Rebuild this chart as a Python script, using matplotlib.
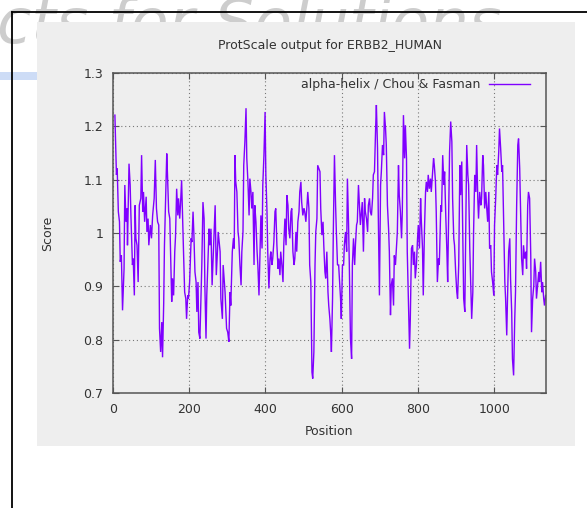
import matplotlib
matplotlib.use('Agg')
import matplotlib.pyplot as plt
from matplotlib.patches import Rectangle
from matplotlib.lines import Line2D

title = "ProtScale output for ERBB2_HUMAN"
series_label = "alpha-helix / Chou & Fasman"
x_label = "Position"
y_label = "Score"
watermark = "cts for Solutions"
x_ticks = [0, 200, 400, 600, 800, 1000]
y_ticks = [0.7, 0.8, 0.9, 1.0, 1.1, 1.2, 1.3]
y_tick_labels = ["0.7", "0.8", "0.9", "1", "1.1", "1.2", "1.3"]

positions = [
    5, 9, 11, 14, 17, 19, 22, 25, 29, 31, 34, 37, 38, 42, 45, 47, 51, 53, 56, 58,
    60, 63, 66, 69, 73, 75, 78, 80, 83, 87, 89, 92, 94, 98, 101, 104, 108, 111, 114, 117,
    120, 122, 125, 128, 130, 133, 135, 138, 141, 143, 146, 149, 151, 154, 156, 159, 162, 164, 167, 170,
    172, 175, 177, 180, 183, 185, 188, 191, 193, 196, 198, 201, 205, 207, 210, 212, 215, 218, 220, 223,
    225, 228, 231, 233, 236, 239, 241, 244, 246, 249, 252, 254, 257, 260, 262, 266, 268, 271, 274, 276,
    281, 283, 287, 289, 294, 298, 301, 304, 307, 309, 313, 316, 318, 320, 322, 325, 328, 330, 333, 336,
    338, 341, 343, 346, 349, 351, 354, 357, 359, 362, 364, 367, 370, 372, 375, 378, 380, 383, 385, 388,
    391, 393, 396, 399, 401, 404, 406, 409, 412, 414, 417, 419, 422, 425, 427, 430, 433, 435, 438, 440,
    443, 446, 448, 451, 454, 456, 459, 461, 464, 467, 469, 472, 475, 477, 480, 482, 485, 488, 490, 493,
    495, 498, 501, 503, 506, 509, 511, 514, 516, 519, 522, 524, 527, 530, 532, 535, 537, 540, 543, 545,
    548, 551, 553, 556, 558, 561, 564, 566, 569,
    571, 573, 576, 578, 581, 584, 586, 589, 592, 594, 597, 599, 602, 605, 607, 610, 613, 615, 618, 620,
    623, 626, 628, 631, 634, 636, 639, 641, 644, 647, 649, 652, 654, 657, 660, 662, 665, 668, 670, 673,
    675, 678, 681, 683, 686, 689, 691, 694, 696, 699, 702, 704, 707, 710, 712, 715, 717, 720, 723, 725,
    728, 730, 733, 736, 738, 741, 744, 746, 749, 751, 754, 757, 759, 762, 765, 767, 770, 772, 775, 778,
    780, 783, 786, 788, 791, 793, 796, 799, 801, 804, 807, 809, 812, 814, 817, 820, 822, 825, 827, 830,
    833, 835, 838, 841, 843, 846, 848, 851, 854, 856,
    857, 860, 862, 865, 868, 870, 873, 876, 878, 881, 883, 886, 889, 891, 894, 896, 899, 902, 904, 907,
    910, 912, 915, 917, 920, 923, 925, 928, 931, 933, 936, 938, 941, 944, 946, 949, 952, 954, 957, 959,
    962, 965, 967, 970, 972, 975, 978, 980, 983, 986, 988, 991, 993, 996, 999, 1001, 1004, 1007, 1009, 1012,
    1014, 1017, 1020, 1022, 1025, 1028, 1030, 1033, 1035, 1038, 1041, 1043, 1046, 1048, 1051, 1054, 1056, 1059, 1062, 1064,
    1067, 1069, 1072, 1075, 1077, 1080, 1083, 1085, 1088, 1090, 1093, 1096, 1098, 1101, 1104, 1106, 1109, 1111, 1114, 1117,
    1119, 1122, 1125, 1127, 1130, 1132, 1135,
]

scores = [
    1.221, 1.109, 1.121, 1.040, 1.021, 0.946, 0.958, 0.855, 0.933, 1.090, 1.021, 1.046, 0.977, 1.130, 1.090, 1.033, 0.940, 0.952, 0.883, 1.052,
    0.990, 0.977, 0.908, 1.052, 1.065, 1.146, 1.040, 1.077, 1.021, 1.068, 1.002, 1.027, 0.977, 1.015, 0.990, 1.033, 1.065, 1.137, 1.046, 1.021,
    1.015, 0.821, 0.777, 0.833, 0.767, 0.868, 0.977, 1.065, 1.149, 1.109, 1.040, 1.027, 0.965, 0.871, 0.915, 0.883, 0.965, 0.993, 1.083, 1.033,
    1.065, 1.027, 1.052, 1.099, 1.015, 0.965, 0.889, 0.877, 0.839, 0.883, 0.877, 0.908, 0.990, 0.983, 1.040, 1.002, 0.927, 0.908, 0.852, 0.908,
    0.814, 0.802, 0.889, 0.940, 1.058, 1.027, 0.902, 0.802, 0.883, 0.946, 1.008, 0.977, 1.008, 0.902, 0.940, 1.015, 1.052, 0.921, 0.965, 1.002,
    0.965, 0.877, 0.839, 0.940, 0.889, 0.821, 0.814, 0.796, 0.889, 0.864, 0.965, 0.990, 0.971, 1.146, 1.096, 1.077, 1.002, 0.990, 0.940, 0.902,
    0.965, 1.002, 1.127, 1.171, 1.234, 1.140, 1.096, 1.033, 1.102, 1.077, 1.046, 1.077, 0.940, 1.052, 1.021, 0.965, 0.940, 0.883, 0.940, 1.033,
    0.971, 1.090, 1.146, 1.227, 1.109, 1.040, 0.965, 0.896, 0.952, 0.965, 0.940, 0.952, 0.983, 1.040, 1.046, 0.977, 0.933, 0.952, 0.921, 0.965,
    0.940, 0.908, 0.977, 1.027, 0.977, 1.071, 1.052, 1.008, 0.990, 1.040, 1.046, 0.965, 0.940, 0.952, 1.002, 0.965, 1.021, 1.040, 1.077, 1.096,
    1.058, 1.033, 1.046, 1.040, 1.021, 1.052, 1.077, 1.046, 0.940, 0.908, 0.739, 0.727, 0.777, 0.940, 1.002, 1.027, 1.127, 1.121, 1.115, 1.046,
    0.996, 1.021, 0.977, 0.927, 0.915, 0.965, 0.889, 0.864, 0.839,
    0.814, 0.777, 0.877, 1.002, 1.146, 1.052, 1.002, 0.940, 0.940, 0.915, 0.877, 0.839, 0.940, 0.940, 0.977, 1.002, 0.965, 1.102, 1.015, 0.940,
    0.802, 0.764, 0.940, 0.990, 0.940, 0.977, 1.015, 1.021, 1.090, 1.046, 1.015, 1.040, 1.058, 0.965, 1.065, 1.040, 1.027, 1.002, 1.052, 1.065,
    1.040, 1.033, 1.065, 1.109, 1.115, 1.196, 1.240, 1.159, 1.033, 0.883, 1.090, 1.115, 1.165, 1.146, 1.227, 1.196, 1.165, 1.052, 1.008, 0.965,
    0.846, 0.902, 0.915, 0.864, 0.958, 0.940, 0.977, 1.002, 1.127, 1.071, 1.040, 0.990, 1.040, 1.221, 1.140, 1.202, 1.140, 0.965, 0.877, 0.783,
    0.839, 0.971, 0.977, 0.940, 0.965, 0.915, 0.940, 0.990, 1.015, 0.971, 1.065, 1.021, 0.971, 0.883, 1.002, 1.077, 1.096, 1.077, 1.109, 1.083,
    1.102, 1.077, 1.109, 1.140, 1.127, 1.096, 1.040, 0.908, 0.952, 0.940,
    0.965, 1.052, 1.040, 1.146, 1.090, 1.115, 1.033, 0.965, 0.908, 1.052, 1.152, 1.209, 1.171, 1.065, 0.990, 0.977, 0.927, 0.889, 0.877, 0.940,
    1.127, 1.071, 1.134, 1.033, 0.877, 0.852, 0.971, 1.165, 1.109, 1.090, 0.971, 0.915, 0.839, 0.889, 1.002, 1.109, 1.077, 1.165, 1.065, 1.027,
    1.077, 1.052, 1.065, 1.146, 1.127, 1.046, 1.077, 1.052, 1.021, 1.077, 0.971, 0.977, 0.927, 0.908, 0.883, 1.015, 1.065, 1.127, 1.109, 1.152,
    1.196, 1.159, 1.115, 1.127, 1.015, 0.908, 0.877, 0.808, 0.877, 0.965, 0.990, 0.915, 0.852, 0.764, 0.733, 0.839, 0.889, 1.052, 1.165, 1.177,
    1.121, 1.052, 0.952, 0.921, 0.977, 0.952, 0.965, 0.933, 1.052, 1.077, 1.065, 0.958, 0.814, 0.877, 0.902, 0.952, 0.927, 0.877, 0.902, 0.927,
    0.908, 0.946, 0.889, 0.908, 0.877, 0.864, 0.883,
]

W, H = 587, 508
fig = plt.figure(figsize=(W / 100, H / 100), dpi=100)
fig.patch.set_facecolor('white')


def fx(px):
    return px / W


def fy(py):
    return 1 - py / H


# background watermark text and page decorations
fig.text(fx(-3), fy(43), watermark, fontsize=45, color='#cdcdcd', style='italic',
         fontweight='light', ha='left', va='baseline', zorder=0)
fig.add_artist(Rectangle((0, fy(80)), fx(40), 8 / H, transform=fig.transFigure,
                         facecolor='#cddcf6', edgecolor='none', zorder=0.5))
fig.add_artist(Rectangle((fx(37), fy(446)), fx(575 - 37), (446 - 22) / H,
                         transform=fig.transFigure, facecolor='#eeeeee',
                         edgecolor='none', zorder=1))
fig.add_artist(Line2D([fx(11.7), fx(11.7)], [fy(11.7), 0], transform=fig.transFigure,
                      color='black', lw=1.3, zorder=3))
fig.add_artist(Line2D([fx(11.7), 1], [fy(11.7), fy(11.7)], transform=fig.transFigure,
                      color='black', lw=1.3, zorder=3))

ax = fig.add_axes([fx(113), fy(393), fx(546 - 113), (393 - 73) / H])
ax.set_zorder(2)
ax.set_facecolor('#eeeeee')

ax.plot(positions, scores, color='#7f00ff', lw=1.0, label=series_label,
        solid_joinstyle='miter')

ax.set_xlim(0, 1136)
ax.set_ylim(0.7, 1.3)
ax.set_xticks(x_ticks)
ax.set_yticks(y_ticks)
ax.set_yticklabels(y_tick_labels)
ax.tick_params(direction='in', top=True, right=True, length=4, width=0.8,
               color='#555555', labelsize=9, labelcolor='#333333', pad=7)
for s in ax.spines.values():
    s.set_color('#555555')
    s.set_linewidth(1.1)
ax.grid(True, color='#777777', lw=0.8, linestyle=(0, (1, 2.5)))
ax.set_axisbelow(True)

ax.set_xlabel(x_label, fontsize=9, color='#333333')
ax.xaxis.set_label_coords(0.5, -(425 - 393) / 320)
ax.set_ylabel(y_label, fontsize=9, color='#333333')
ax.yaxis.set_label_coords((54 - 113) / 433, 0.5)

fig.text(fx(330), fy(45), title, fontsize=9, color='#333333', ha='center', va='center')

leg = ax.legend(loc='center right', bbox_to_anchor=(fx(530), fy(84.7)),
                bbox_transform=fig.transFigure, frameon=False, markerfirst=False,
                fontsize=9, handlelength=3.3, handletextpad=0.65, borderpad=0,
                borderaxespad=0)
for t in leg.get_texts():
    t.set_color('#333333')

fig.savefig('out.png', dpi=100)
